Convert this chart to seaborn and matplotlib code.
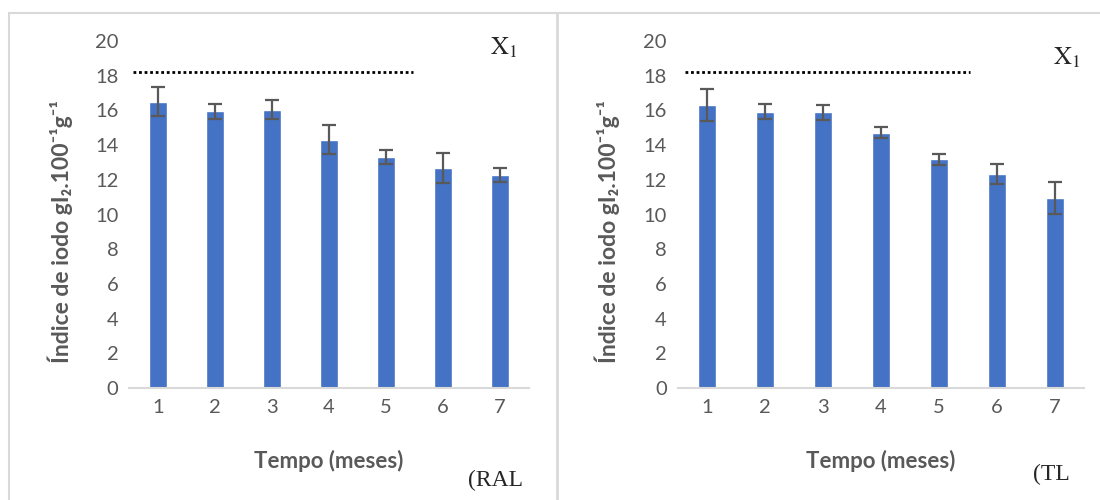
import pandas as pd
import numpy as np
import matplotlib
matplotlib.use("Agg")
import matplotlib.pyplot as plt
import seaborn as sns
from matplotlib.lines import Line2D
from matplotlib.transforms import blended_transform_factory

# months on the x axis
meses = ["1", "2", "3", "4", "5", "6", "7"]

# iodine index, left panel (RAL)
ral_media = [16.5, 15.95, 16.05, 14.3, 13.3, 12.7, 12.3]
ral_erro = [0.85, 0.42, 0.53, 0.83, 0.4, 0.87, 0.4]

# iodine index, right panel (TL)
tl_media = [16.3, 15.93, 15.9, 14.72, 13.18, 12.33, 10.95]
tl_erro = [0.92, 0.44, 0.44, 0.33, 0.33, 0.6, 0.94]

# reference level (dotted line)
ref_nivel = 18.2

sns.set_style("white")
plt.rcParams['font.family'] = ['Lato', 'DejaVu Sans']
plt.rcParams['mathtext.fontset'] = 'stix'

cor_barra = "#4472C4"
cor_texto = "#595959"

fig = plt.figure(figsize=(11, 5), dpi=100)

def painel(pos, media, erro, nota, nota_xy, canto_xy, linha_x):
    ax = fig.add_axes(pos)
    df = pd.DataFrame({"mes": meses, "valor": media})
    sns.barplot(data=df, x="mes", y="valor", color=cor_barra, width=0.32,
                saturation=1, errorbar=None, ax=ax)
    ax.errorbar(np.arange(len(meses)), media, yerr=erro, fmt="none",
                ecolor=cor_texto, elinewidth=1.6, capsize=5, capthick=1.6)
    ax.set_xlim(-0.5, 6.5)
    ax.set_ylim(0, 20)
    ax.set_yticks(range(0, 21, 2))
    ax.tick_params(axis="both", length=0, labelsize=14.5, labelcolor=cor_texto, pad=8)
    for s in ["top", "right", "left"]:
        ax.spines[s].set_visible(False)
    ax.spines["bottom"].set_color("#D9D9D9")
    ax.spines["bottom"].set_linewidth(1.5)
    ax.set_xlabel("Tempo (meses)", fontsize=16, fontweight="bold", color=cor_texto, labelpad=24)
    ax.set_ylabel("Índice de iodo gI₂.100⁻¹g⁻¹", fontsize=16.5, fontweight="bold",
                  color=cor_texto)
    ax.yaxis.set_label_coords(-0.142, 0.45)
    trans = blended_transform_factory(ax.transAxes, ax.transData)
    ax.plot(linha_x, [ref_nivel, ref_nivel], transform=trans, color="black",
            linestyle=(0, (1, 1)), linewidth=2, clip_on=False)
    fig.text(nota_xy[0], nota_xy[1], r"$\mathrm{X}_1$", fontsize=18,
             ha="left", va="center")
    fig.text(canto_xy[0], canto_xy[1], nota, fontsize=17, family=["Liberation Serif", "DejaVu Serif"],
             ha="left", va="center")
    return ax

ax1 = painel([0.1177, 0.224, 0.3628, 0.694], ral_media, ral_erro, "(RAL",
             (490 / 1100, 1 - 48 / 500), (468 / 1100, 1 - 480 / 500),
             [(133 - 129.5) / 399, (413 - 129.5) / 399])
ax2 = painel([0.6164, 0.224, 0.3691, 0.694], tl_media, tl_erro, "(TL",
             (1053 / 1100, 1 - 58 / 500), (1033 / 1100, 1 - 474 / 500),
             [(685 - 678) / 406, (970 - 678) / 406])

# panel borders
borda = "#D9D9D9"
fig.add_artist(Line2D([9 / 1100, 1.0], [1 - 13 / 500] * 2, color=borda, linewidth=1.5))
fig.add_artist(Line2D([9 / 1100] * 2, [0, 1 - 13 / 500], color=borda, linewidth=1.5))
fig.add_artist(Line2D([557 / 1100] * 2, [0, 1 - 13 / 500], color=borda, linewidth=2))

fig.savefig("out.png", dpi=100)
